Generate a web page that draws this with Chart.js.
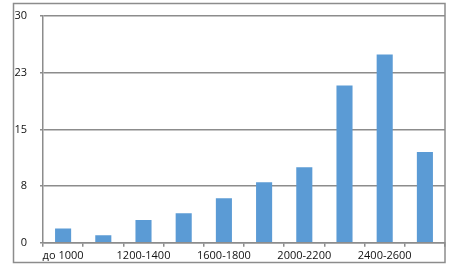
<!DOCTYPE html>
<html>
<head>
<meta charset="utf-8">
<script src="https://cdn.jsdelivr.net/npm/chart.js@4"></script>
<style>
  body { margin: 0; background: #fff; }
</style>
</head>
<body>
<canvas id="myChart" width="463" height="268"></canvas>
<script>
// диапазоны и значения
const categories = ['до 1000', '1000-1200', '1200-1400', '1400-1600', '1600-1800',
                    '1800-2000', '2000-2200', '2200-2400', '2400-2600', 'более 2600'];
const values = [1.9, 1, 3, 3.9, 5.9, 8, 10, 20.8, 24.9, 12];
const yMax = 30;
const yStep = 7.5;

// рамка вокруг диаграммы
const frame = {
    id: 'frame',
    beforeDraw(chart) {
        const c = chart.ctx;
        c.save();
        c.fillStyle = '#fff';
        c.fillRect(0, 0, chart.width, chart.height);
        c.strokeStyle = '#8c8c8c';
        c.lineWidth = 1.5;
        c.strokeRect(13.5, 3.5, 431.5, 259);
        c.restore();
    }
};

const ctx = document.getElementById('myChart').getContext('2d');
const myChart = new Chart(ctx, {
    type: 'bar',
    data: {
        labels: categories,
        datasets: [{
            data: values,
            backgroundColor: '#5b9bd5',
            barPercentage: 0.8,
            categoryPercentage: 0.5
        }]
    },
    options: {
        responsive: false,
        animation: false,
        layout: { padding: { left: 13, right: 18, top: 16, bottom: 4 } },
        plugins: {
            legend: { display: false },
            tooltip: { enabled: false }
        },
        scales: {
            x: {
                border: { color: '#8c8c8c', width: 1.5 },
                grid: {
                    drawOnChartArea: false,
                    drawTicks: true,
                    tickLength: 4,
                    color: '#8c8c8c',
                    lineWidth: 1.5
                },
                ticks: {
                    autoSkip: false,
                    maxRotation: 0,
                    padding: 2,
                    color: '#111',
                    font: { family: 'Open Sans', size: 11 },
                    callback: function (v, i) {
                        return i % 2 === 0 ? categories[i] : '';
                    }
                }
            },
            y: {
                min: 0,
                max: yMax,
                afterFit: function (scale) {
                    scale.width = 30;
                    scale.paddingTop = 0;
                    scale.paddingBottom = 0;
                },
                border: { color: '#8c8c8c', width: 1.5 },
                grid: {
                    color: '#8c8c8c',
                    lineWidth: 1.5,
                    tickLength: 3
                },
                ticks: {
                    stepSize: yStep,
                    padding: 13,
                    color: '#111',
                    font: { family: 'Open Sans', size: 11 },
                    callback: function (v) { return Math.round(v); }
                }
            }
        }
    },
    plugins: [frame]
});
</script>
</body>
</html>
